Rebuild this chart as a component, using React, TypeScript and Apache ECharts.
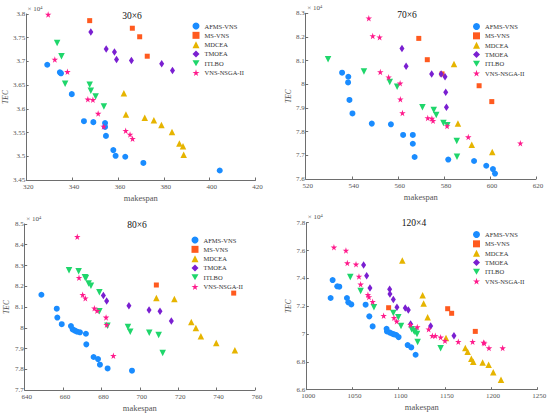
import React, { useEffect, useRef } from "react";
import * as echarts from "echarts";

const NAMES = ["AFMS-VNS", "MS-VNS", "MDCEA", "TMOEA", "ITLBO", "VNS-NSGA-II"];
const COLORS = ["#1a8cff", "#ff5a1f", "#e6b400", "#7a1fd1", "#1fd66b", "#ff1a8c"];

// Panel titles
const TITLES = ["30×6", "70×6", "80×6", "120×4"];

// Axis ranges [min, max, interval]
const X_RANGES = [
  [320, 420, 20],
  [520, 620, 20],
  [640, 760, 20],
  [1000, 1250, 50],
];
const Y_RANGES = [
  [3.45, 3.8, 0.05],
  [7.6, 8.3, 0.1],
  [7.7, 8.5, 0.1],
  [6.6, 7.8, 0.2],
];

// ---- Panel 1: 30×6 (makespan, TEC ×10^4)
const p1AFMS = [[329.2,3.693],[334.7,3.677],[335.2,3.675],[339.9,3.631],[345.2,3.574],[349.3,3.572],[354.4,3.570],[354.4,3.562],[354.8,3.543],[358.0,3.513],[359.0,3.501],[363.2,3.499],[371.1,3.486],[404.4,3.470]];
const p1MS = [[347.7,3.786],[366.3,3.770],[369.5,3.752],[372.8,3.711]];
const p1MDCEA = [[362.6,3.633],[363.5,3.588],[371.7,3.581],[375.7,3.576],[379.0,3.566],[383.6,3.551],[386.8,3.527],[388.4,3.521],[388.7,3.503]];
const p1TMOEA = [[348.2,3.762],[354.9,3.726],[358.5,3.720],[359.4,3.704],[365.9,3.702],[379.1,3.695],[383.8,3.681]];
const p1ITLBO = [[333.5,3.739],[335.4,3.711],[337.0,3.653],[347.7,3.651],[348.2,3.638],[350.3,3.626],[353.9,3.605]];
const p1VNS = [[329.6,3.799],[332.5,3.704],[338.0,3.678],[346.9,3.620],[349.1,3.619],[351.4,3.590],[353.8,3.563],[363.4,3.554],[365.3,3.546],[366.4,3.537]];

// ---- Panel 2: 70×6
const p2AFMS = [[535.8,8.049],[538.5,8.032],[538.4,8.008],[539.0,7.934],[540.3,7.877],[548.7,7.834],[557.0,7.831],[562.3,7.786],[566.5,7.786],[566.5,7.749],[567.3,7.693],[581.9,7.682],[593.1,7.676],[598.4,7.656],[601.3,7.642],[602.2,7.623]];
const p2MS = [[569.1,8.194],[572.8,8.104],[579.2,8.044],[595.3,7.994],[600.8,7.927]];
const p2MDCEA = [[584.4,8.086],[586.1,7.834],[592.1,7.745],[601.0,7.714]];
const p2TMOEA = [[561.8,8.151],[563.6,8.076],[574.7,8.044],[578.8,8.044],[580.5,8.032],[580.8,7.966],[581.1,7.903]];
const p2ITLBO = [[529.7,8.106],[545.3,8.054],[556.5,8.010],[559.7,7.990],[570.7,7.903],[575.6,7.892],[576.7,7.870],[579.8,7.837],[581.5,7.827],[585.6,7.761],[585.7,7.694]];
const p2VNS = [[547.4,8.279],[549.1,8.204],[552.1,8.199],[552.4,8.052],[556.0,8.030],[561.0,8.004],[561.1,7.937],[562.0,7.879],[573.0,7.858],[574.8,7.856],[575.3,7.846],[581.4,7.824],[590.6,7.777],[613.2,7.751]];

// ---- Panel 3: 80×6
const p3AFMS = [[648.7,8.159],[656.7,8.092],[657.0,8.049],[659.3,8.017],[664.1,8.008],[665.0,7.992],[666.2,7.986],[667.3,7.981],[668.8,7.978],[671.9,7.971],[672.1,7.920],[675.9,7.859],[678.2,7.849],[679.2,7.822],[683.2,7.804],[695.9,7.793]];
const p3MS = [[708.6,8.206],[748.9,8.167]];
const p3MDCEA = [[708.6,8.143],[718.0,8.139],[726.8,8.028],[729.2,7.999],[731.8,7.959],[739.8,7.926],[749.5,7.891]];
const p3TMOEA = [[681.0,8.155],[682.7,8.129],[694.3,8.106],[704.8,8.086],[710.5,8.079],[716.4,8.033]];
const p3ITLBO = [[663.1,8.277],[668.1,8.272],[671.4,8.243],[671.9,8.240],[673.3,8.213],[674.5,8.203],[678.9,8.171],[678.9,8.079],[683.1,8.010],[693.8,8.004],[695.0,7.981],[704.9,7.976],[709.8,7.965],[711.9,7.878]];
const p3VNS = [[667.4,8.439],[668.3,8.241],[670.2,8.159],[671.6,8.142],[676.3,8.094],[677.7,8.082],[682.4,8.050],[682.7,8.015],[686.2,7.865]];

// ---- Panel 4: 120×4
const p4AFMS = [[1028.5,7.388],[1033.5,7.343],[1035.7,7.340],[1026.3,7.259],[1044.0,7.259],[1045.5,7.228],[1048.7,7.213],[1064.2,7.211],[1068.2,7.127],[1071.8,7.055],[1086.9,7.038],[1087.3,7.019],[1090.5,7.010],[1093.1,7.002],[1094.9,6.998],[1097.4,6.993],[1099.9,6.978],[1109.7,6.921],[1113.6,6.904],[1118.3,6.851]];
const p4MS = [[1089.1,7.189],[1153.0,7.182],[1157.3,7.149],[1182.9,7.019]];
const p4MDCEA = [[1103.9,7.529],[1125.9,7.278],[1127.0,7.220],[1131.3,7.120],[1151.2,6.971],[1172.1,6.899],[1174.6,6.873],[1178.6,6.823],[1180.7,6.801],[1190.8,6.796],[1197.3,6.780],[1202.3,6.725],[1210.7,6.672]];
const p4TMOEA = [[1062.0,7.496],[1065.3,7.419],[1068.9,7.331],[1090.2,7.321],[1090.5,7.287],[1094.2,7.249],[1098.1,7.192],[1107.1,7.187],[1110.4,7.172],[1112.9,7.072],[1134.6,7.057],[1159.8,6.988]];
const p4ITLBO = [[1047.6,7.410],[1058.8,7.309],[1073.2,7.192],[1094.2,7.151],[1099.6,7.120],[1102.5,7.057],[1114.0,7.034],[1116.2,7.024],[1117.6,7.014],[1119.8,7.000],[1120.5,6.943],[1145.4,6.897]];
const p4VNS = [[1029.9,7.623],[1042.9,7.601],[1044.4,7.510],[1053.8,7.501],[1057.0,7.414],[1058.8,7.357],[1066.7,7.283],[1067.8,7.266],[1071.8,7.232],[1083.7,7.132],[1094.9,7.117],[1097.8,7.091],[1112.6,7.067],[1120.1,7.050],[1132.4,7.034],[1136.4,6.988],[1139.6,6.988],[1145.4,6.976],[1150.1,6.952],[1164.5,6.945],[1180.0,6.945],[1191.9,6.940],[1192.6,6.933],[1197.7,6.899],[1212.5,6.899]];

const PANELS = [
  [p1AFMS, p1MS, p1MDCEA, p1TMOEA, p1ITLBO, p1VNS],
  [p2AFMS, p2MS, p2MDCEA, p2TMOEA, p2ITLBO, p2VNS],
  [p3AFMS, p3MS, p3MDCEA, p3TMOEA, p3ITLBO, p3VNS],
  [p4AFMS, p4MS, p4MDCEA, p4TMOEA, p4ITLBO, p4VNS],
];

const FONT = "Liberation Serif";
const STAR = "path://M50,0 L61,35 L98,35 L68,57 L79,91 L50,70 L21,91 L32,57 L2,35 L39,35 Z";
const DOWN_TRI = "path://M0,0 L10,0 L5,8.66 Z";
const SYMBOLS: any[] = ["circle", "rect", "triangle", "diamond", DOWN_TRI, STAR];
const SIZES: any[] = [6, 5, 6.5, [5, 7.5], 6.5, 6.5];

// layout (pixels)
const GRIDS = [
  { left: 26, top: 14, width: 229.5, height: 166 },
  { left: 305.7, top: 13.3, width: 230.3, height: 165.7 },
  { left: 24.7, top: 224, width: 230.3, height: 166 },
  { left: 306.3, top: 222.7, width: 231, height: 167 },
];
const TITLE_POS = [[132, 15.5], [407, 15], [137, 224.5], [414, 222.5]];
const LEGEND_POS = [[192.5, 22.5], [473, 23], [191.5, 236.5], [473, 231]];
const YNAME_GAP = [15, 12.5, 14.5, 13.5];

export default function App() {
  const ref = useRef<HTMLDivElement>(null);
  useEffect(() => {
    if (!ref.current) return;
    const chart = echarts.init(ref.current, undefined, { renderer: "svg" });
    const axisCommon = {
      axisLine: { show: true, lineStyle: { color: "#6e6e6e", width: 1 } },
      axisTick: { show: true, inside: true, length: 2.5, lineStyle: { color: "#6e6e6e" } },
      splitLine: { show: false },
      axisLabel: { color: "#555", fontSize: 7, fontFamily: FONT, formatter: (v: number) => String(+v.toFixed(4)) },
    };
    const xAxis = X_RANGES.map((r, i) => ({
      ...axisCommon,
      type: "value",
      gridIndex: i,
      min: r[0],
      max: r[1],
      interval: r[2],
      name: "makespan",
      nameLocation: "middle",
      nameGap: 13,
      nameTextStyle: { color: "#555", fontFamily: FONT, fontSize: 8.5, fontWeight: "normal" },
      axisLabel: { ...axisCommon.axisLabel, margin: 3, padding: [0, 0, 0, 4] },
    }));
    const yAxis = Y_RANGES.map((r, i) => ({
      ...axisCommon,
      type: "value",
      gridIndex: i,
      min: r[0],
      max: r[1],
      interval: r[2],
      name: "TEC",
      nameLocation: "middle",
      nameGap: YNAME_GAP[i],
      nameTextStyle: { color: "#555", fontFamily: FONT, fontSize: 7.5, fontStyle: "italic", fontWeight: "normal" },
      axisLabel: { ...axisCommon.axisLabel, margin: 1 },
    }));
    const series: any[] = [];
    PANELS.forEach((panel, pi) => {
      panel.forEach((data, si) => {
        series.push({
          type: "scatter",
          name: NAMES[si],
          xAxisIndex: pi,
          yAxisIndex: pi,
          data,
          symbol: SYMBOLS[si],
          symbolSize: SIZES[si],
          itemStyle: { color: COLORS[si], opacity: 1 },
          z: 2 + si,
        });
      });
    });
    const legend = LEGEND_POS.map((p) => ({
      data: NAMES,
      orient: "vertical",
      left: p[0],
      top: p[1],
      itemWidth: 7,
      itemHeight: 7,
      itemGap: 2.33,
      padding: 0,
      textStyle: { fontFamily: FONT, fontSize: 6.5, color: "#333", lineHeight: 7 },
    }));
    const graphic: any[] = [];
    TITLE_POS.forEach((p, i) => {
      graphic.push({
        type: "text",
        x: p[0],
        y: p[1],
        style: { text: TITLES[i], font: `9.5px "${FONT}"`, fill: "#111", align: "center", verticalAlign: "middle" },
      });
    });
    GRIDS.forEach((g) => {
      graphic.push({
        type: "text",
        x: g.left + 1.5,
        y: g.top - 1.8,
        style: { text: "× 10", font: `7px "${FONT}"`, fill: "#555", align: "left", verticalAlign: "bottom" },
      });
      graphic.push({
        type: "text",
        x: g.left + 14,
        y: g.top - 4.3,
        style: { text: "4", font: `5px "${FONT}"`, fill: "#555", align: "left", verticalAlign: "bottom" },
      });
    });
    chart.setOption({
      animation: false,
      backgroundColor: "#fff",
      grid: GRIDS.map((g) => ({ ...g, containLabel: false })),
      xAxis,
      yAxis,
      legend,
      series,
      graphic,
    } as any);
    return () => chart.dispose();
  }, []);
  return <div ref={ref} style={{ position: "fixed", left: 0, top: 0, width: 550, height: 418 }} />;
}
